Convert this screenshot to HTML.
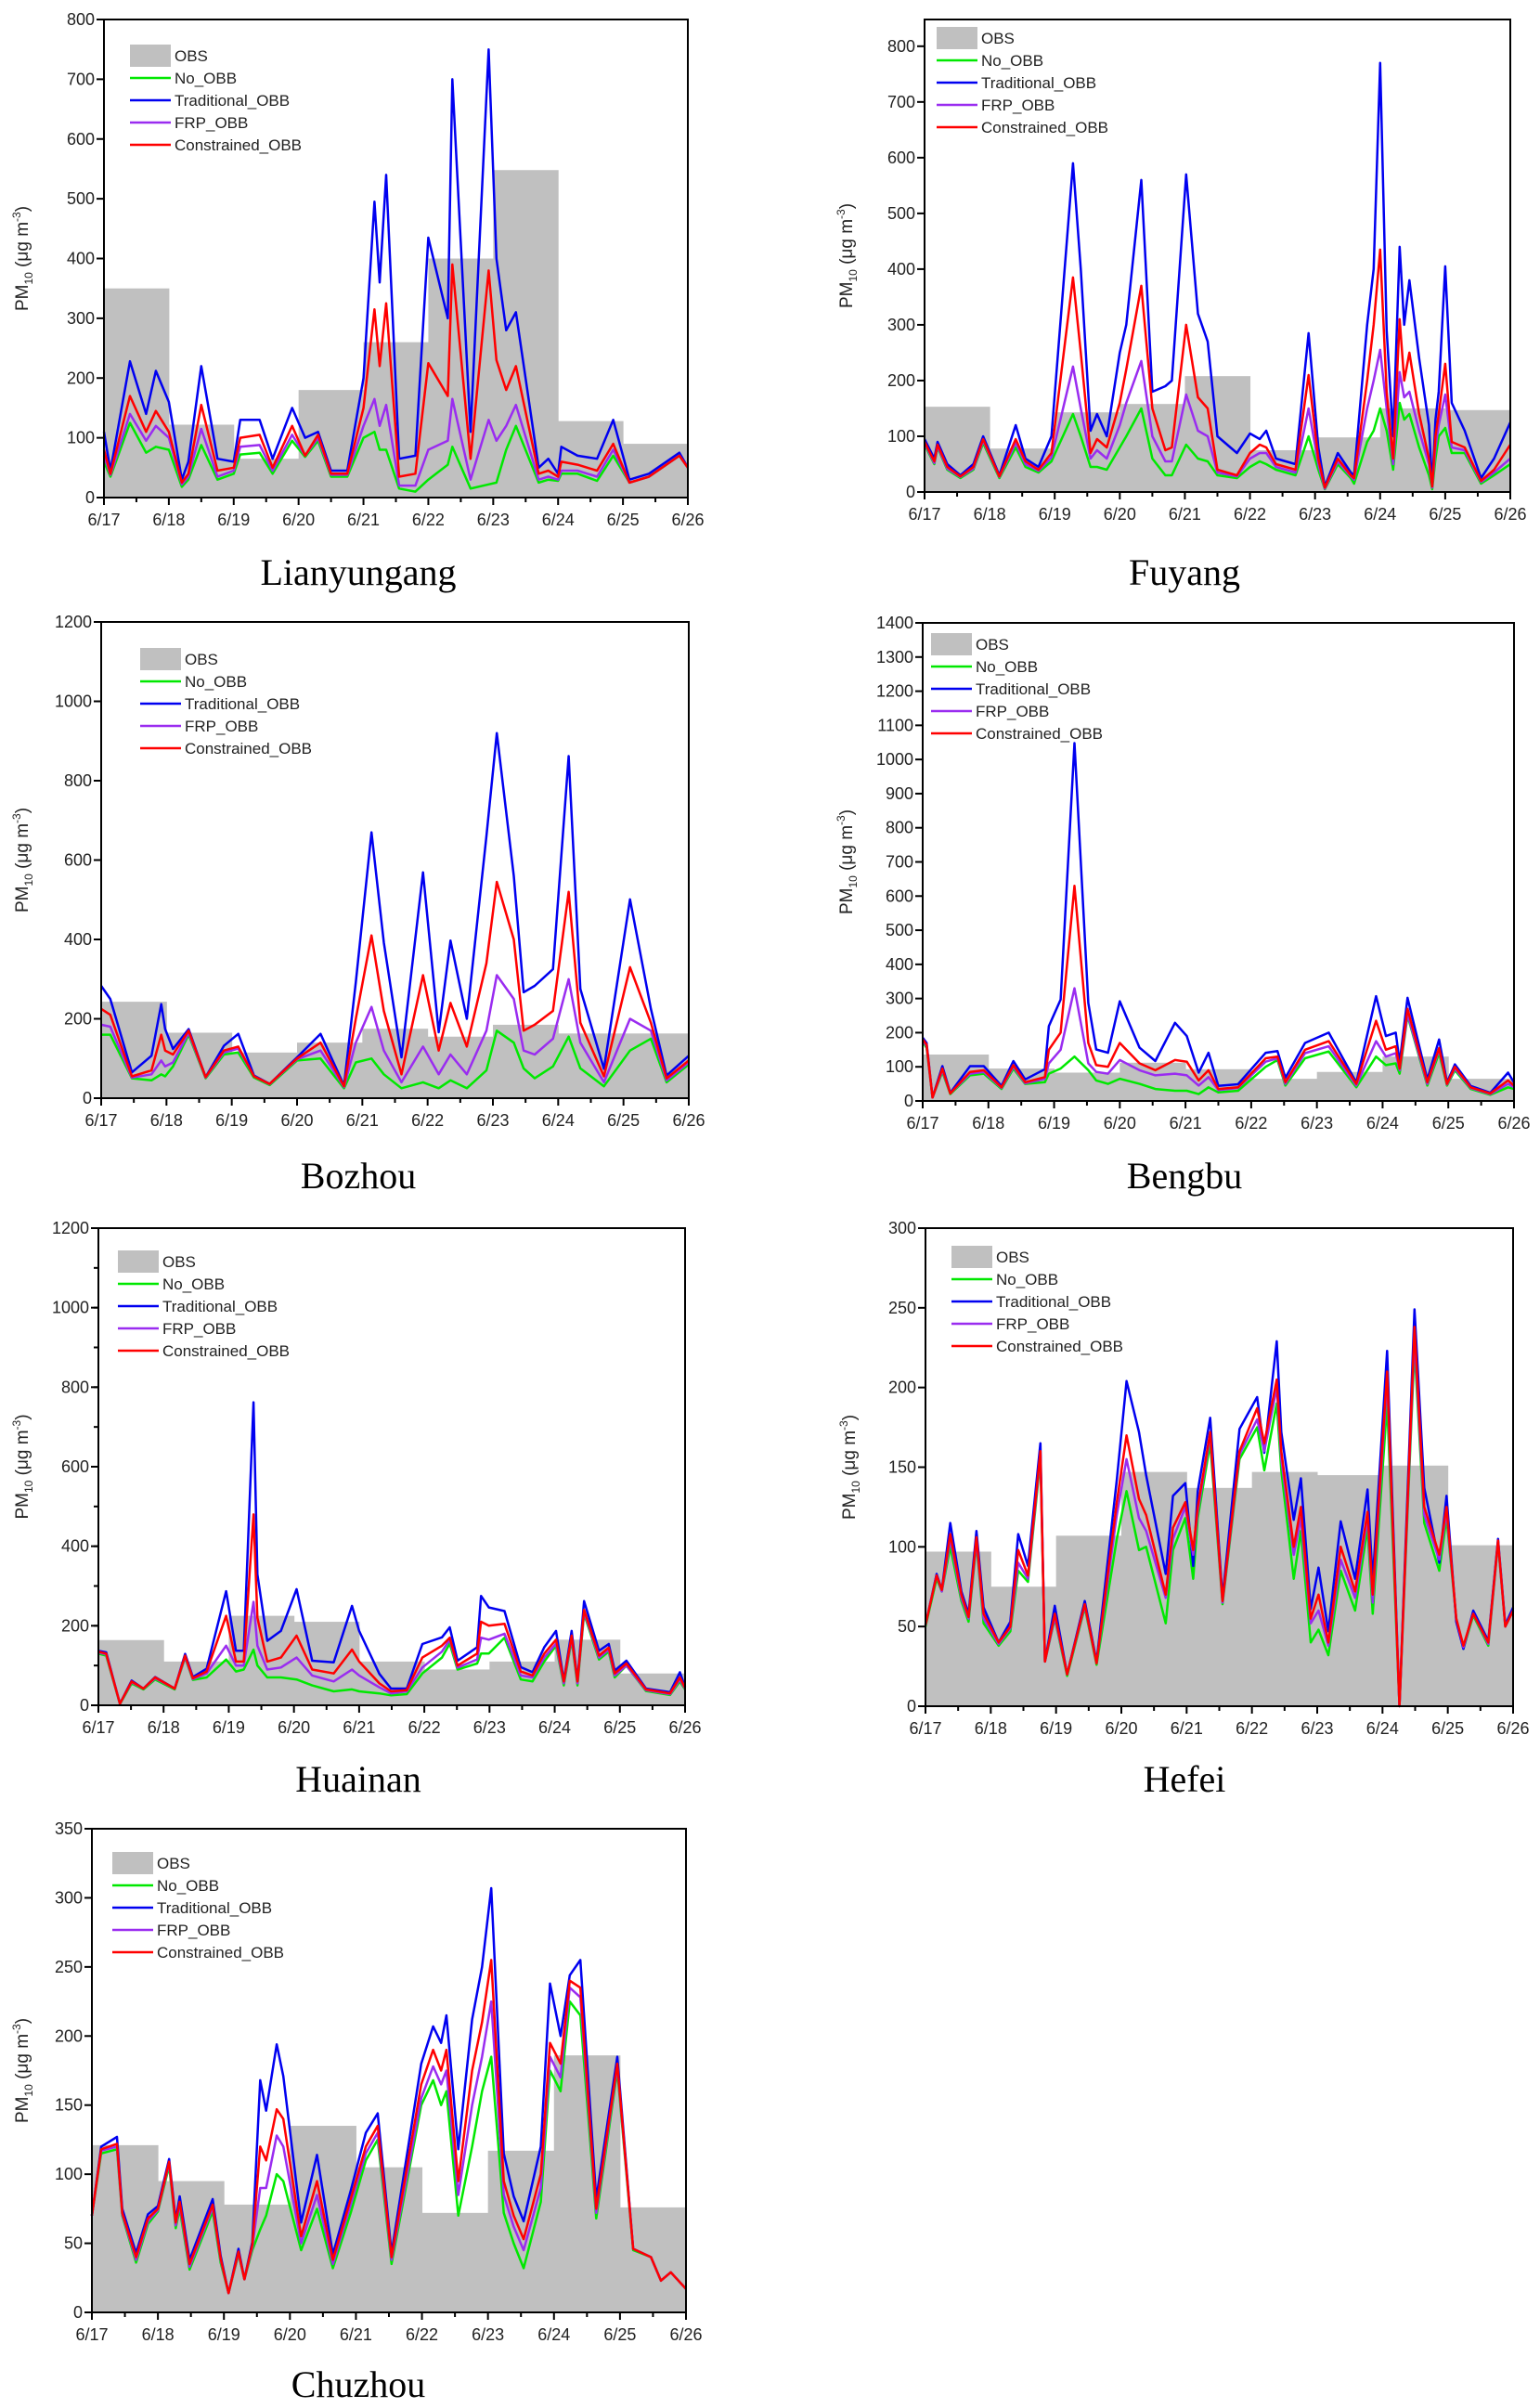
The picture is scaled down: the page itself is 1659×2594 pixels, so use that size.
<!DOCTYPE html>
<html><head><meta charset="utf-8"><title>PM10 time series</title>
<style>
html,body{margin:0;padding:0;background:#fff;}
svg{display:block;font-family:"Liberation Sans",Arial,sans-serif;}
.title{font-family:"Liberation Serif","Times New Roman",serif;font-size:40px;}
</style></head>
<body>
<svg id="fig" width="1659" height="2594" viewBox="0 0 1659 2594" xmlns="http://www.w3.org/2000/svg"></svg>
<script>
const dayLabels = ["6/17","6/18","6/19","6/20","6/21","6/22","6/23","6/24","6/25","6/26"];
const seriesNames = ["OBS","No_OBB","Traditional_OBB","FRP_OBB","Constrained_OBB"];

// ---- Lianyungang ----
const lyTimes = [0,0.1,0.4,0.65,0.8,1.0,1.2,1.3,1.5,1.75, 2.0,2.1,2.4,2.6,2.9,3.1,3.3,3.5,3.75,4.0, 4.17,4.25,4.35,4.55,4.8,5.0,5.3,5.37,5.65,5.93, 6.05,6.2,6.35,6.7,6.85,7.0,7.05,7.3,7.6,7.85, 8.1,8.4,8.87,9];
const lyObs = [350,122,65,180,260,400,548,128,90];
const lyBlue = [110,45,228,140,212,160,30,60,220,65, 60,130,130,65,150,100,110,45,45,200, 495,360,540,65,70,435,300,700,110,750, 400,280,310,50,65,40,85,70,65,130, 30,40,75,50];
const lyRed = [80,40,170,110,145,110,25,40,155,45, 50,100,105,50,120,70,105,40,40,150, 315,220,325,35,40,225,170,390,65,380, 230,180,220,40,45,35,60,55,45,90, 25,35,70,50];
const lyPurple = [70,38,140,95,120,100,22,35,115,35, 45,85,88,45,105,70,100,38,38,120, 165,120,155,20,20,80,95,165,30,130, 95,120,155,30,35,30,45,45,35,80, 25,35,70,50];
const lyGreen = [60,35,125,75,85,80,18,30,88,30, 40,72,75,40,95,68,95,35,35,100, 110,80,80,15,10,30,55,85,15,22, 25,80,120,25,30,28,40,40,28,70, 25,35,70,50];

// ---- Fuyang ----
const fyTimes = [0,0.15,0.2,0.35,0.55,0.75,0.9,1.15,1.4,1.55, 1.75,1.95,2.28,2.4,2.55,2.65,2.8,3.0,3.1,3.33, 3.5,3.7,3.8,4.02,4.2,4.35,4.5,4.8,5.0,5.15, 5.25,5.4,5.7,5.9,6.05,6.15,6.35,6.55,6.6,6.8, 6.9,7.0,7.1,7.2,7.3,7.37,7.45,7.6,7.75,7.8, 7.85,7.9,8.0,8.1,8.3,8.55,8.75,9.0];
const fyObs = [153,78,143,158,208,75,98,150,147];
const fyBlue = [95,60,90,50,30,50,100,30,120,60, 45,100,590,400,110,140,100,250,300,560, 180,190,200,570,320,270,100,70,105,95, 110,60,50,285,80,10,70,35,30,300, 400,770,290,100,440,300,380,240,120,10, 130,180,405,160,110,25,60,125];
const fyRed = [90,55,85,45,28,45,95,28,95,55, 40,70,385,250,70,95,80,160,220,370, 150,75,80,300,170,150,40,30,70,85, 80,50,40,210,60,8,60,30,25,200, 300,435,180,60,310,200,250,140,60,10, 100,140,230,90,80,20,40,85];
const fyPurple = [88,52,82,42,27,42,92,27,88,50, 38,62,225,150,60,75,60,120,160,235, 100,55,55,175,110,100,35,28,60,70, 70,45,35,150,50,6,55,28,22,150, 200,255,150,50,215,170,180,110,50,8, 80,120,175,80,75,18,35,60];
const fyGreen = [85,50,80,40,25,40,88,25,80,45, 35,55,140,100,45,45,40,80,100,150, 60,30,30,85,60,55,30,25,45,55, 50,40,30,100,40,5,50,25,15,90, 110,150,110,40,160,130,140,80,30,5, 60,100,115,70,70,15,30,50];

// ---- Bozhou ----
const bzTimes = [0,0.14,0.47,0.77,0.92,0.98,1.1,1.34,1.6,1.88, 2.1,2.34,2.58,3.0,3.36,3.72,3.9,4.14,4.33,4.6, 4.93,5.17,5.35,5.6,5.9,6.06,6.32,6.47,6.64,6.92, 7.16,7.34,7.7,8.1,8.42,8.66,9.0];
const bzObs = [243,165,115,140,175,155,185,163,163];
const bzBlue = [283,250,65,107,237,174,124,174,53,132, 162,57,36,103,162,32,292,670,392,103, 569,166,397,200,660,920,560,267,283,325, 862,275,74,501,225,57,107];
const bzRed = [225,210,55,70,160,120,110,170,53,120, 130,55,36,100,140,30,200,410,220,60, 310,120,240,130,340,545,400,170,185,220, 520,190,55,330,190,50,95];
const bzPurple = [185,180,52,60,95,80,90,165,52,115, 125,55,35,98,120,28,140,230,120,40, 130,60,110,60,170,310,250,120,110,150, 300,140,40,200,170,45,90];
const bzGreen = [160,160,50,45,60,55,80,160,50,110, 115,52,33,95,100,25,90,100,60,25, 40,25,45,25,70,170,140,75,50,80, 155,75,30,120,150,40,85];

// ---- Bengbu ----
const bbTimes = [0,0.06,0.15,0.3,0.42,0.72,0.93,1.2,1.38,1.56, 1.86,1.92,2.1,2.31,2.52,2.64,2.82,3.0,3.3,3.54, 3.84,4.02,4.2,4.35,4.5,4.8,5.22,5.4,5.52,5.82, 6.18,6.6,6.9,7.05,7.2,7.26,7.38,7.68,7.86,7.98, 8.1,8.34,8.64,8.91,9.0];
const bbObs = [136,95,83,112,93,65,85,130,65];
const bbBlue = [185,170,10,102,24,102,102,44,117,63, 93,219,297,1048,287,151,141,292,156,117, 229,190,83,141,44,49,141,146,68,170, 200,54,307,190,200,112,302,63,180,54, 107,44,24,83,54];
const bbRed = [180,165,10,95,22,85,90,40,105,55, 70,150,200,630,170,105,100,170,110,90, 120,115,60,90,35,40,125,130,55,150, 175,50,235,150,160,95,270,55,155,50, 100,40,22,60,45];
const bbPurple = [178,160,10,90,22,80,85,38,100,52, 65,110,150,330,110,85,80,120,90,75, 80,75,45,70,32,38,115,125,50,140, 160,45,175,130,140,90,255,50,150,48, 95,38,20,50,40];
const bbGreen = [175,155,10,85,20,75,80,35,95,50, 55,80,95,130,90,60,50,65,50,35, 30,30,20,40,25,30,100,120,45,125, 145,40,130,105,110,80,250,45,140,45, 90,35,18,40,35];

// ---- Huainan ----
const hnTimes = [0,0.12,0.33,0.51,0.69,0.87,1.17,1.33,1.45,1.66, 1.96,2.11,2.23,2.38,2.44,2.59,2.8,3.04,3.28,3.61, 3.89,4.0,4.31,4.49,4.73,4.97,5.27,5.39,5.51,5.81, 5.87,5.99,6.23,6.48,6.66,6.84,7.02,7.14,7.26,7.35, 7.45,7.68,7.83,7.92,8.1,8.4,8.77,8.92,9.0];
const hnObs = [164,110,225,210,110,90,110,165,80];
const hnBlue = [137,133,4,62,42,71,42,129,71,92, 287,137,137,762,329,162,187,292,112,108, 250,187,79,42,42,154,171,196,112,146, 275,246,237,96,83,146,187,62,187,62, 262,137,154,87,112,42,33,83,46];
const hnRed = [135,130,4,60,42,70,42,125,68,85, 225,110,110,480,220,110,120,175,90,80, 140,110,55,35,38,120,150,170,100,130, 210,200,205,85,75,130,165,60,175,60, 240,125,145,80,105,40,30,70,44];
const hnPurple = [133,128,4,58,42,68,42,122,66,80, 150,100,100,260,150,90,95,120,75,60, 90,75,45,30,35,95,135,165,95,115, 170,165,180,75,70,120,155,55,170,55, 235,120,140,75,100,38,28,65,42];
const hnGreen = [130,125,3,55,40,65,40,120,64,70, 115,85,90,140,100,70,70,65,50,35, 40,35,30,25,28,80,120,155,90,105, 130,130,170,65,60,110,150,50,165,50, 230,115,135,70,100,36,26,60,40];

// ---- Hefei ----
const hfTimes = [0,0.17,0.25,0.38,0.55,0.66,0.78,0.89,1.12,1.3, 1.42,1.57,1.76,1.83,1.98,2.17,2.44,2.62,2.93,3.08, 3.27,3.38,3.68,3.79,3.98,4.1,4.17,4.36,4.55,4.81, 5.08,5.19,5.38,5.45,5.64,5.75,5.9,6.02,6.17,6.36, 6.58,6.77,6.85,7.07,7.26,7.49,7.64,7.87,7.98,8.13, 8.24,8.39,8.62,8.77,8.88,9.0];
const hfObs = [97,75,107,147,137,147,145,151,101];
const hfBlue = [51,83,73,115,72,58,110,62,40,53, 108,88,165,28,63,20,66,28,142,204, 172,145,83,132,140,88,135,181,68,174, 194,159,229,172,117,143,61,87,47,116, 80,136,79,223,0,249,137,90,132,53, 36,60,41,105,51,62];
const hfRed = [51,82,73,108,70,56,106,58,40,50, 98,82,160,28,58,20,64,27,128,170, 130,120,70,112,128,98,125,172,66,160, 187,165,205,160,100,125,55,70,40,100, 72,122,70,210,0,238,125,95,125,55, 38,58,40,104,50,60];
const hfPurple = [51,82,72,105,68,55,104,55,39,49, 90,80,158,28,56,20,63,27,120,155, 118,110,68,105,125,95,122,170,65,158, 180,160,200,155,95,118,52,60,38,92, 68,118,65,205,0,232,120,92,122,55, 37,58,39,103,50,60];
const hfGreen = [50,80,72,100,66,53,102,52,38,47, 85,78,155,28,55,19,62,26,105,135, 98,100,52,98,118,80,118,165,64,155, 175,148,190,148,80,110,40,48,32,85, 60,112,58,190,0,225,115,85,118,55, 36,57,38,102,50,60];

// ---- Chuzhou ----
const czTimes = [0,0.14,0.38,0.46,0.67,0.85,1.0,1.17,1.27,1.33, 1.48,1.83,1.95,2.07,2.22,2.31,2.43,2.55,2.64,2.8, 2.9,3.17,3.41,3.65,3.92,4.15,4.33,4.54,4.99,5.17, 5.29,5.37,5.55,5.76,5.91,6.05,6.24,6.39,6.54,6.8, 6.94,7.1,7.24,7.4,7.64,7.96,8.2,8.47,8.62,8.77, 9.0];
const czObs = [121,95,78,135,105,72,117,186,76];
const czBlue = [70,120,127,75,43,71,77,111,67,84, 38,82,41,14,46,24,51,168,146,194, 171,65,114,42,88,130,144,43,180,207, 195,215,118,212,250,307,115,84,66,120, 238,200,244,255,82,185,46,40,23,29, 17];
const czRed = [70,118,122,72,40,68,75,109,65,80, 35,78,39,14,44,24,49,120,110,147, 140,55,95,38,82,120,135,40,165,190, 175,190,95,175,210,255,95,70,53,100, 195,180,240,235,75,180,46,40,23,29, 17];
const czPurple = [70,117,120,71,38,66,74,108,63,78, 33,76,38,14,43,24,47,90,90,128, 120,50,85,35,78,115,130,38,155,178, 165,175,85,150,185,225,85,62,45,90, 185,170,235,228,72,178,46,40,23,29, 17];
const czGreen = [70,115,118,70,36,64,73,106,61,75, 31,73,36,14,42,24,45,60,70,100, 95,45,75,32,72,110,125,35,150,168, 150,160,70,120,160,185,72,50,32,80, 175,160,225,215,68,175,45,40,23,29, 17];

const NS = "http://www.w3.org/2000/svg";
const svg = document.getElementById("fig");
function mk(tag, attrs, parent){
  const e = document.createElementNS(NS, tag);
  for (const k in attrs) e.setAttribute(k, attrs[k]);
  (parent||svg).appendChild(e);
  return e;
}
const COLORS = {green:"#00e800", blue:"#0000f0", purple:"#9a2cf0", red:"#ff0000", obs:"#c0c0c0"};

function drawChart(cfg){
  const g = mk("g", {});
  
  
  const L=cfg.l, R=cfg.r, T=cfg.t, B=cfg.b;
  const xs = d => L + (R-L)*d/9;
  const ys = v => B - (B-T)*v/cfg.ymax;

  const obsG = mk("g", {}, g);
  
  
  cfg.obs.forEach((v,i)=>{
    const r = mk("rect", {x:xs(i), y:ys(v), width:xs(i+1)-xs(i)+0.5, height:B-ys(v), fill:COLORS.obs}, obsG);
    
    
  });

  const lines = [["green",cfg.green,"no-obb-line"],["blue",cfg.blue,"traditional-obb-line"],["purple",cfg.purple,"frp-obb-line"],["red",cfg.red,"constrained-obb-line"]];
  lines.forEach(([c,arr,name])=>{
    const n = Math.min(arr.length, cfg.times.length);
    let d = "";
    for (let i=0;i<n;i++) d += (i?"L":"M") + xs(cfg.times[i]).toFixed(1) + "," + ys(arr[i]).toFixed(1);
    const p = mk("path", {d:d, fill:"none", stroke:COLORS[c], "stroke-width":2.5, "stroke-linejoin":"round"}, g);
    
    
  });

  const fr = mk("rect", {x:L, y:T, width:R-L, height:B-T, fill:"none", stroke:"#000", "stroke-width":2}, g);
  
  

  const xa = mk("g", {}, g);
  
  
  for (let i=0;i<=18;i++){
    const x = xs(i/2), len = (i%2===0)?8:5;
    mk("line", {x1:x, y1:B, x2:x, y2:B+len, stroke:"#000", "stroke-width":2}, xa);
  }
  dayLabels.forEach((lab,i)=>{
    const t = mk("text", {x:xs(i), y:B+30, "text-anchor":"middle", "font-size":18, fill:"#222"}, xa);
    t.textContent = lab;
    
    
  });

  const ya = mk("g", {}, g);
  
  
  if (cfg.minor){
    for (let v=0; v<=cfg.ymax+0.01; v+=cfg.minor){
      mk("line", {x1:L-5, y1:ys(v), x2:L, y2:ys(v), stroke:"#000", "stroke-width":2}, ya);
    }
  }
  for (let v=0; v<=cfg.ymax+0.01; v+=cfg.step){
    mk("line", {x1:L-8, y1:ys(v), x2:L, y2:ys(v), stroke:"#000", "stroke-width":2}, ya);
    const t = mk("text", {x:L-10, y:ys(v)+6, "text-anchor":"end", "font-size":18, fill:"#222"}, ya);
    t.textContent = v;
    
    
  }
  const cy = (T+B)/2;
  const yt = mk("text", {x:0, y:0, "text-anchor":"middle", "font-size":19, fill:"#222", transform:`translate(${cfg.ytx},${cy}) rotate(-90)`}, g);
  
  
  yt.innerHTML = 'PM<tspan font-size="12" dy="5">10</tspan><tspan dy="-5"> (μg m</tspan><tspan font-size="12" dy="-8">-3</tspan><tspan dy="8">)</tspan>';

  const lg = mk("g", {}, g);
  
  
  const lx = L + cfg.lgx, ly = T + cfg.lgy;
  const sw = mk("rect", {x:lx, y:ly, width:44, height:24, fill:COLORS.obs}, lg);
  
  
  const lcols = [null, COLORS.green, COLORS.blue, COLORS.purple, COLORS.red];
  seriesNames.forEach((nm,i)=>{
    const cyy = ly + 12 + i*24;
    if (i>0) mk("line", {x1:lx, y1:cyy, x2:lx+44, y2:cyy, stroke:lcols[i], "stroke-width":2.6}, lg);
    const t = mk("text", {x:lx+48, y:cyy+6, "font-size":17, fill:"#222"}, lg);
    t.textContent = nm;
    
    
  });

  const ct = mk("text", {x:cfg.titleX, y:cfg.titleY, "text-anchor":"middle", class:"title", fill:"#000"}, g);
  ct.textContent = cfg.title;
  
  
}

drawChart({key:"lianyungang", title:"Lianyungang", l:112,r:741,t:21,b:536, ymax:800, step:100, minor:0, ytx:30, lgx:28, lgy:27, titleX:386, titleY:630,
  times:lyTimes, obs:lyObs, blue:lyBlue, red:lyRed, purple:lyPurple, green:lyGreen});
drawChart({key:"fuyang", title:"Fuyang", l:996,r:1627,t:21,b:530, ymax:848, step:100, minor:0, ytx:918, lgx:13, lgy:8, titleX:1276, titleY:630,
  times:fyTimes, obs:fyObs, blue:fyBlue, red:fyRed, purple:fyPurple, green:fyGreen});
drawChart({key:"bozhou", title:"Bozhou", l:109,r:742,t:670,b:1183, ymax:1200, step:200, minor:0, ytx:30, lgx:42, lgy:28, titleX:386, titleY:1280,
  times:bzTimes, obs:bzObs, blue:bzBlue, red:bzRed, purple:bzPurple, green:bzGreen});
drawChart({key:"bengbu", title:"Bengbu", l:994,r:1631,t:671,b:1186, ymax:1400, step:100, minor:0, ytx:918, lgx:9, lgy:11, titleX:1276, titleY:1280,
  times:bbTimes, obs:bbObs, blue:bbBlue, red:bbRed, purple:bbPurple, green:bbGreen});
drawChart({key:"huainan", title:"Huainan", l:106,r:738,t:1323,b:1837, ymax:1200, step:200, minor:100, ytx:30, lgx:21, lgy:24, titleX:386, titleY:1930,
  times:hnTimes, obs:hnObs, blue:hnBlue, red:hnRed, purple:hnPurple, green:hnGreen});
drawChart({key:"hefei", title:"Hefei", l:997,r:1630,t:1323,b:1838, ymax:300, step:50, minor:0, ytx:921, lgx:28, lgy:19, titleX:1276, titleY:1930,
  times:hfTimes, obs:hfObs, blue:hfBlue, red:hfRed, purple:hfPurple, green:hfGreen});
drawChart({key:"chuzhou", title:"Chuzhou", l:99,r:739,t:1970,b:2491, ymax:350, step:50, minor:0, ytx:30, lgx:22, lgy:25, titleX:386, titleY:2582,
  times:czTimes, obs:czObs, blue:czBlue, red:czRed, purple:czPurple, green:czGreen});
</script>
</body></html>
